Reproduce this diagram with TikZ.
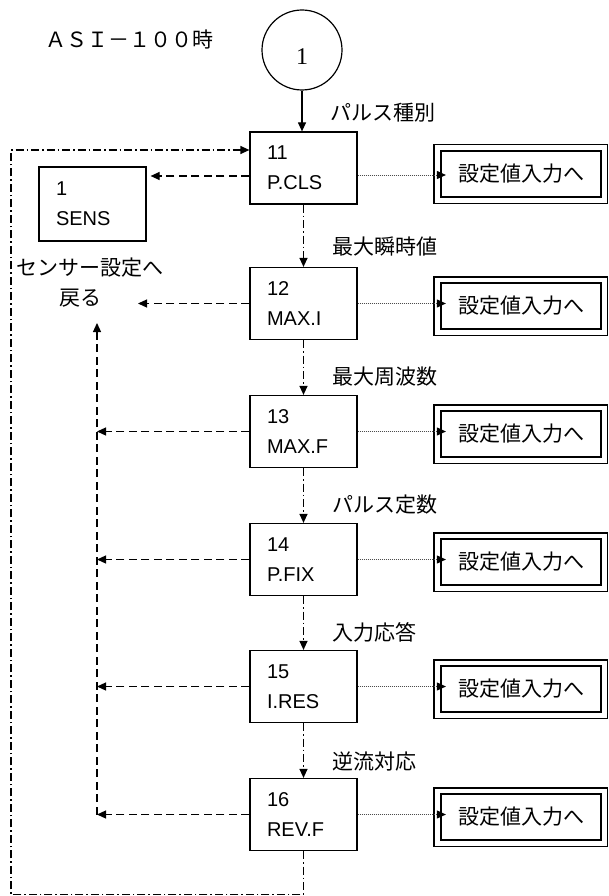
\documentclass[tikz,border=0pt]{standalone}
\usepackage{fontspec}
\setmainfont{Liberation Sans}
\newfontfamily\jp{Noto Sans CJK JP}
\newfontfamily\serifnum{Liberation Serif}
\usetikzlibrary{arrows.meta}
\begin{document}
\begin{tikzpicture}[x=1pt,y=-1pt,
  tip/.style={-{Triangle[length=9pt,width=8pt,color=black]}},
  box/.style={draw, line width=1.2pt, text width=73pt, inner xsep=17pt, inner ysep=0pt, minimum height=72pt, align=left, font=\fontsize{20}{30}\selectfont},
  setbox/.style={draw, line width=2.2pt, minimum width=160pt, minimum height=46pt, inner sep=0pt, font=\jp\fontsize{21}{21}\selectfont},
  jlabel/.style={font=\jp\fontsize{21}{21}\selectfont, inner sep=0pt},
  dashline/.style={line width=1.2pt, dash pattern=on 8pt off 4.5pt},
  dashdot/.style={line width=1.2pt, dash pattern=on 8pt off 3pt on 1.5pt off 3pt},
  dotline/.style={line width=0.9pt, dash pattern=on 1pt off 1pt, draw=black!70},
]
\useasboundingbox (0,0) rectangle (608,896);

% title and start circle
\node[jlabel, anchor=west] (title) at (45,40) {ＡＳＩ－１００時};
\node[draw, circle, minimum size=80pt, inner sep=0pt, line width=1.2pt, font=\serifnum\fontsize{24}{24}\selectfont] (c) at (302,50) {\raisebox{-7pt}[\height][0pt]{1}};

% main boxes
\node[box] (b11) at (303.5,168) {11\\P.CLS};
\node[box] (b12) at (303.5,303.5) {12\\MAX.I};
\node[box] (b13) at (303.5,431.5) {13\\MAX.F};
\node[box] (b14) at (303.5,559.5) {14\\P.FIX};
\node[box] (b15) at (303.5,686.5) {15\\I.RES};
\node[box] (b16) at (303.5,814.5) {16\\REV.F};
\node[box, minimum height=74pt] (s1) at (92.5,204) {1\\SENS};

% labels
\node[jlabel, anchor=west] (l11) at (330,113) {パルス種別};
\node[jlabel, anchor=west] (l12) at (332,247) {最大瞬時値};
\node[jlabel, anchor=west] (l13) at (332,377) {最大周波数};
\node[jlabel, anchor=west] (l14) at (332,505) {パルス定数};
\node[jlabel, anchor=west] (l15) at (332,632) {入力応答};
\node[jlabel, anchor=west] (l16) at (332,762) {逆流対応};

\node[jlabel] (back1) at (90,268) {センサー設定へ};
\node[jlabel] (back2) at (80,298) {戻る};

% setting boxes
\node[setbox] (d11) at (521,174) {設定値入力へ};
\node[setbox] (d12) at (521,306) {設定値入力へ};
\node[setbox] (d13) at (521,434) {設定値入力へ};
\node[setbox] (d14) at (521,562) {設定値入力へ};
\node[setbox] (d15) at (521,689) {設定値入力へ};
\node[setbox] (d16) at (521,817) {設定値入力へ};
\foreach \i in {11,...,16}
  \draw[line width=1.2pt] ([xshift=-6pt,yshift=5pt]d\i.north west) rectangle ([xshift=5pt,yshift=-5pt]d\i.south east);

% start arrow
\draw[line width=1.2pt, tip] (c) -- (c |- b11.north);

% vertical flow
\draw[dashdot, tip] (b11) -- (b12);
\draw[dashdot, tip] (b12) -- (b13);
\draw[dashdot, tip] (b13) -- (b14);
\draw[dashdot, tip] (b14) -- (b15);
\draw[dashdot, tip] (b15) -- (b16);

% loop back
\coordinate (lb1) at (303.5,894.5);
\coordinate (lb2) at (11,894.5);
\coordinate (lt) at (11,150);
\draw[dashdot, tip] (b16.south) -- (lb1) -- (lb2) -- (lt) -- (lt -| b11.west);

% dotted arrows to setting boxes
\draw[dotline, tip, shorten >=-6pt] ([yshift=-7pt]b11.east) -- ([yshift=-7pt]b11.east -| d11.west);
\foreach \i in {12,...,16}
  \draw[dotline, tip, shorten >=-6pt] (b\i.east) -- (b\i.east -| d\i.west);

% back to sensor
\draw[dashline, tip, shorten >=4pt] ([yshift=-8pt]b11.west) -- ([yshift=-8pt]b11.west -| s1.east);
\coordinate (r12) at (138,303.5);
\draw[dashline, tip] (b12) -- (r12);
\coordinate (vtop) at (97,323);
\coordinate (vbot) at (97,814.5);
\draw[dashline, tip] (vbot) -- (vtop);
\foreach \i in {13,...,16}
  \draw[dashline, tip] (b\i.west) -- (b\i.west -| vtop);
\end{tikzpicture}
\end{document}
